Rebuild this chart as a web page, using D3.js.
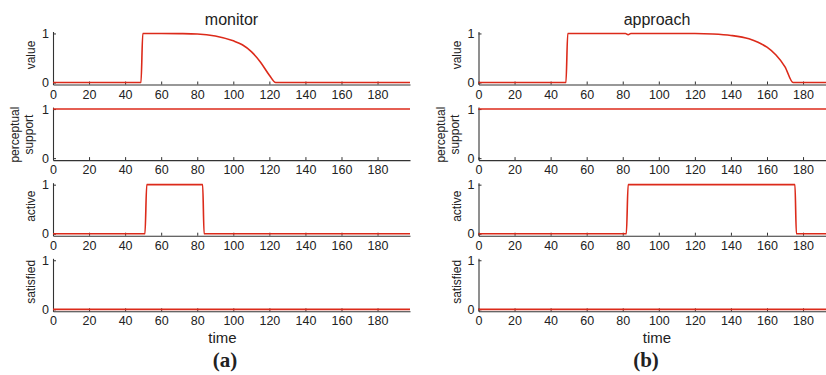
<!DOCTYPE html>
<html><head><meta charset="utf-8">
<script src="https://cdn.jsdelivr.net/npm/d3@7"></script>
<style>
html,body{margin:0;padding:0;background:#fff;}
svg{display:block;}
text{font-family:"Liberation Sans",Arial,Helvetica,sans-serif;fill:#222;}
</style></head>
<body>
<svg id="chart" width="826" height="375"></svg>
<script>
// ---------- data ----------
const columnTitles = ["monitor", "approach"];
const captions = ["(a)", "(b)"];
const rowLabels = [["value"], ["perceptual", "support"], ["active"], ["satisfied"]];
const timeDomain = [0, 198];
const xTicks = [0, 20, 40, 60, 80, 100, 120, 140, 160, 180];
const yTicks = [0, 1];

// monitor (a)
const monitorValueT = [0, 48.8, 49.8, 60, 70, 80, 90, 100, 105, 110, 115, 120, 123.5, 198];
const monitorValueV = [0, 0, 1, 1, 0.997, 0.99, 0.95, 0.85, 0.77, 0.63, 0.42, 0.15, 0, 0];
const monitorPerceptT = [0, 198];
const monitorPerceptV = [1, 1];
const monitorActiveT = [0, 51, 52, 83, 83.8, 198];
const monitorActiveV = [0, 0, 1, 1, 0, 0];
const monitorSatisfiedT = [0, 198];
const monitorSatisfiedV = [0, 0];

// approach (b)
const approachValueT = [0, 48.5, 49.5, 81.5, 83, 84.5, 100, 120, 130, 140, 150, 155, 160, 165, 170, 174.5, 198];
const approachValueV = [0, 0, 1, 1, 0.975, 1, 1, 1, 0.99, 0.96, 0.89, 0.82, 0.72, 0.56, 0.32, 0, 0];
const approachPerceptT = [0, 198];
const approachPerceptV = [1, 1];
const approachActiveT = [0, 82, 83, 175.5, 176.3, 198];
const approachActiveV = [0, 0, 1, 1, 0, 0];
const approachSatisfiedT = [0, 198];
const approachSatisfiedV = [0, 0];

const seriesByColumn = [
  [[monitorValueT, monitorValueV], [monitorPerceptT, monitorPerceptV],
   [monitorActiveT, monitorActiveV], [monitorSatisfiedT, monitorSatisfiedV]],
  [[approachValueT, approachValueV], [approachPerceptT, approachPerceptV],
   [approachActiveT, approachActiveV], [approachSatisfiedT, approachSatisfiedV]]
];

// ---------- layout ----------
const svg = d3.select("#chart");
const colLeft = [53, 478.5];
const plotW = 357;
const rowTop0 = 31.5, rowStep = 75.6, plotH = 53;
const timeLabelX = [222.5, 657];
const captionX = [225, 646];
const lineColor = "#dc2a1a";
const axisColor = "#333";

const y = d3.scaleLinear().domain([-0.04, 1.04]).range([plotH, 0]);

columnTitles.forEach((title, c) => {
  const x = d3.scaleLinear().domain(timeDomain).range([0, plotW]);
  const col = svg.append("g").attr("transform", `translate(${colLeft[c]},0)`);

  col.append("text").attr("x", plotW / 2).attr("y", 25)
    .attr("text-anchor", "middle").style("font-size", "16px").text(title);

  rowLabels.forEach((lbl, r) => {
    const g = col.append("g").attr("transform", `translate(0,${rowTop0 + r * rowStep})`);
    const [T, V] = seriesByColumn[c][r];
    const pts = T.map((t, i) => [t, V[i]]);

    // axes
    const xa = g.append("g").attr("transform", `translate(0,${plotH})`)
      .call(d3.axisBottom(x).tickValues(xTicks).tickFormat(d3.format("d"))
        .tickSizeInner(-3).tickSizeOuter(0).tickPadding(5.3));
    const ya = g.append("g")
      .call(d3.axisLeft(y).tickValues(yTicks).tickFormat(d3.format("d"))
        .tickSizeInner(-3).tickSizeOuter(0).tickPadding(4));
    [xa, ya].forEach(a => {
      a.select(".domain").attr("stroke", axisColor).attr("stroke-width", 1.1);
      a.selectAll(".tick line").attr("stroke", axisColor);
      a.selectAll(".tick text").style("font-size", "12.5px").attr("fill", "#222")
        .style("font-family", '"Liberation Sans",Arial,sans-serif');
    });

    // series
    g.append("path").datum(pts)
      .attr("fill", "none").attr("stroke", lineColor).attr("stroke-width", 1.6)
      .attr("stroke-linejoin", "round")
      .attr("d", d3.line().x(d => x(d[0])).y(d => y(d[1])).curve(d3.curveMonotoneX));

    // y label (rotated; baseline faces the axis)
    const n = lbl.length;
    const cy = n === 1 ? plotH / 2 - 3 : plotH / 2 + 1;
    lbl.forEach((s, i) => {
      const bx = n === 1 ? -18 : (i === 0 ? -34 : -20);
      g.append("text")
        .attr("transform", `translate(${bx},${cy}) rotate(-90)`)
        .attr("text-anchor", "middle").style("font-size", "12px").text(s);
    });
  });

  svg.append("text").attr("x", timeLabelX[c]).attr("y", 343)
    .attr("text-anchor", "middle").style("font-size", "15px").text("time");
  svg.append("text").attr("x", captionX[c]).attr("y", 367)
    .attr("text-anchor", "middle")
    .style("font-family", '"Liberation Serif","Times New Roman",serif')
    .style("font-weight", "bold").style("font-size", "21px").text(captions[c]);
});
</script>
</body></html>
